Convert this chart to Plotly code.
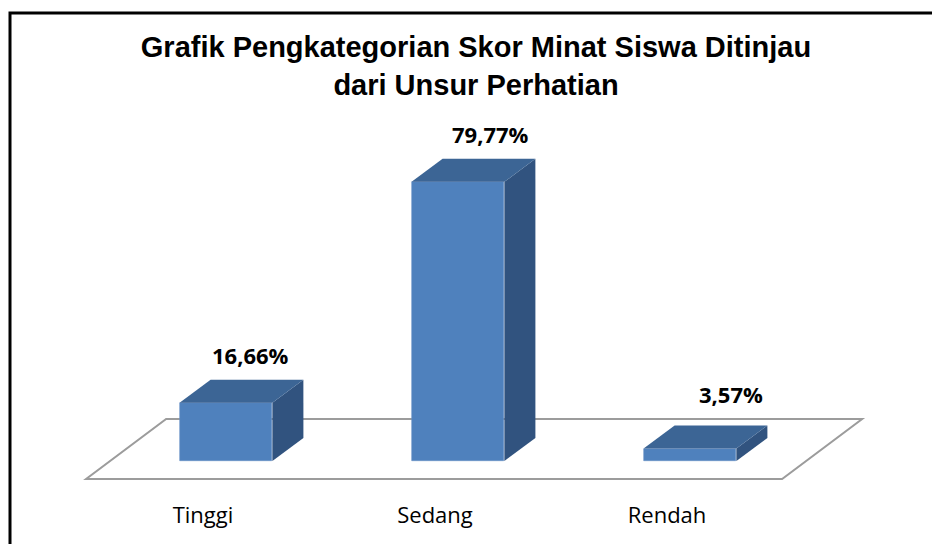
import plotly.graph_objects as go

# ---- data ----
categories = ["Tinggi", "Sedang", "Rendah"]
values = [16.66, 79.77, 3.57]
value_labels = ["16,66%", "79,77%", "3,57%"]
title_text = "Grafik Pengkategorian Skor Minat Siswa Ditinjau<br>dari Unsur Perhatian"

# ---- styling / geometry params ----
W, H = 932, 544
FRONT = "#4F81BD"
TOP = "#3C6595"
SIDE = "#31537F"
bar_w = 0.4
depth_dx = 0.1336   # x data units of 3D depth
depth_dy = 6.57     # y data units of 3D depth
x_range = [-226 / 232, (W - 226) / 232]
y_range = [(461 - H) / 3.5, 461 / 3.5]

idx = list(range(len(categories)))

fig = go.Figure()

# front faces (real bars)
fig.add_trace(go.Bar(
    x=idx, y=values, width=bar_w, marker=dict(color=FRONT, line=dict(width=0.6, color="#6690C6")),
    hoverinfo="skip", showlegend=False,
))

# top and side faces computed from the values
for i, v in zip(idx, values):
    xl, xr = i - bar_w / 2, i + bar_w / 2
    fig.add_trace(go.Scatter(
        x=[xr, xr, xr + depth_dx, xr + depth_dx, xr],
        y=[0, v, v + depth_dy, depth_dy, 0],
        fill="toself", fillcolor=SIDE, mode="lines", line=dict(width=0, color=SIDE),
        hoverinfo="skip", showlegend=False,
    ))
    fig.add_trace(go.Scatter(
        x=[xl, xl + depth_dx, xr + depth_dx, xr, xl],
        y=[v, v + depth_dy, v + depth_dy, v, v],
        fill="toself", fillcolor=TOP, mode="lines", line=dict(width=0, color=TOP),
        hoverinfo="skip", showlegend=False,
    ))

# floor (parallelogram under bars)
n = len(categories)
floor_front_y = -5.14
floor_back_y = 12.0
floor_x0 = -0.603
floor_shift = 0.345
fx0, fx1 = floor_x0, floor_x0 + n
path = (f"M {fx0},{floor_front_y} L {fx1},{floor_front_y} "
        f"L {fx1 + floor_shift},{floor_back_y} L {fx0 + floor_shift},{floor_back_y} Z")
fig.add_shape(type="path", path=path, xref="x", yref="y", layer="below",
              line=dict(color="#9C9C9C", width=2), fillcolor="white")

# value labels (kept above the floor's back edge)
for i, v, t in zip(idx, values, value_labels):
    fig.add_annotation(
        x=i + depth_dx, y=max(v + depth_dy, floor_back_y), text=f"<b>{t}</b>", showarrow=False,
        xanchor="center", yanchor="middle", xshift=-7 + 8.5 * i, yshift=25,
        font=dict(family="Open Sans", size=22, color="black"),
    )

# outer border
fig.add_shape(type="rect", xref="paper", yref="paper",
              x0=10 / W, x1=1.05, y0=-0.05, y1=1 - 13 / H,
              line=dict(color="black", width=3), fillcolor="rgba(0,0,0,0)", layer="above")

fig.update_layout(
    width=W, height=H,
    margin=dict(l=0, r=0, t=0, b=0),
    paper_bgcolor="white", plot_bgcolor="white",
    title=dict(text=f"<b>{title_text}</b>", x=476 / W, xanchor="center",
               y=1 - 57 / H, yanchor="top", yref="container",
               font=dict(family="Liberation Sans", size=29, color="black")),
    xaxis=dict(range=x_range, domain=[0, 1], tickvals=idx, ticktext=categories,
               showgrid=False, zeroline=False, showline=False, ticks="",
               anchor="free", position=1 - 500 / H, ticklabelshift=-23,
               tickfont=dict(family="Open Sans", size=22, color="black")),
    yaxis=dict(range=y_range, domain=[0, 1], visible=False),
    bargap=0,
    showlegend=False,
)

fig.write_html("out.html")
